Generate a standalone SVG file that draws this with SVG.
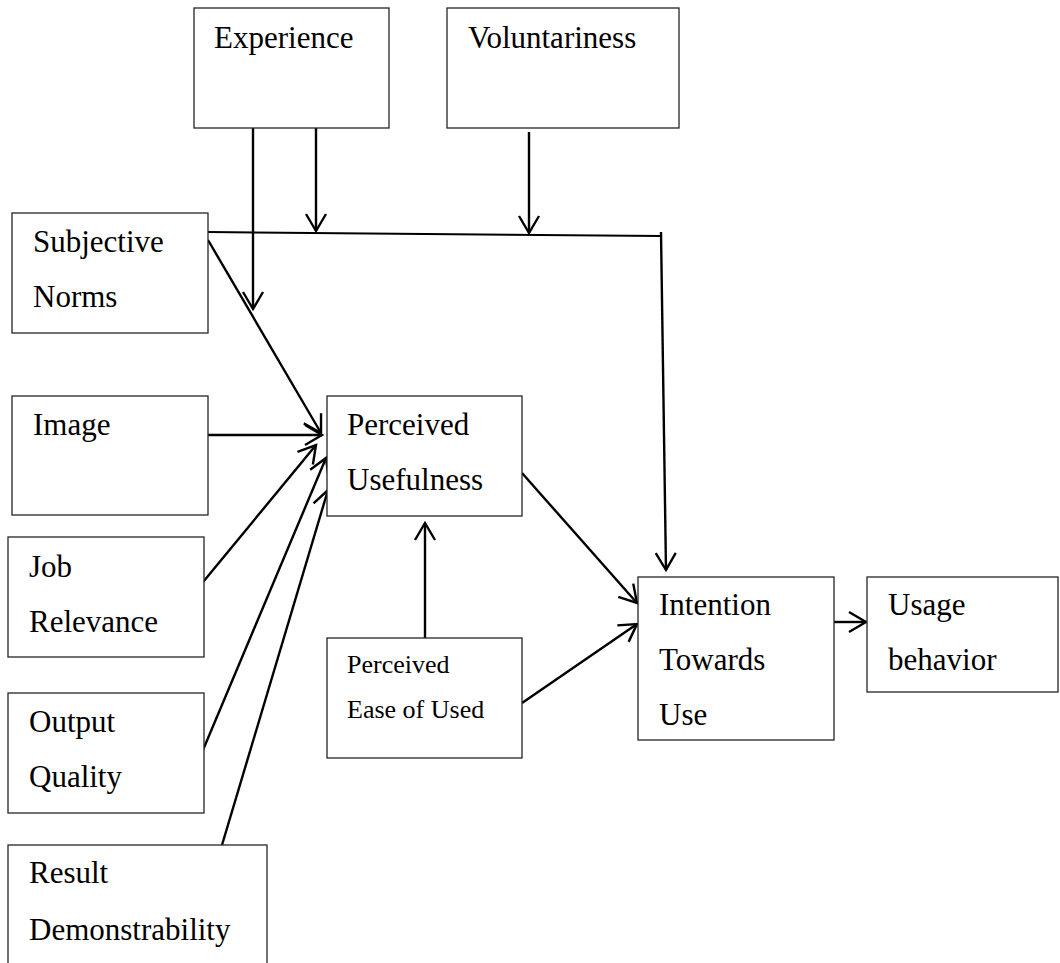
<svg xmlns="http://www.w3.org/2000/svg" width="1060" height="963" viewBox="0 0 1060 963">
  <defs>
    <style>
      .box { fill: #fff; stroke: #262626; stroke-width: 1.3; }
      .lbl { font-family: "Liberation Serif", "Times New Roman", serif; font-size: 31px; fill: #000; }
      .sm { font-size: 26px; }
      .edge { fill: none; stroke: #000; stroke-width: 2.4; }
      .thin { stroke-width: 2; }
    </style>
    <marker id="open" markerUnits="userSpaceOnUse" markerWidth="24" markerHeight="24" viewBox="-20 -12 24 24" refX="0" refY="0" orient="auto">
      <path d="M-17,-10 L0,0 L-17,10" fill="none" stroke="#000" stroke-width="2.4"/>
    </marker>
  </defs>

  <rect width="1060" height="963" fill="#fff"/>

  <!-- connectors -->
  <g id="connectors">
    <!-- experience moderators -->
    <line class="edge" x1="253" y1="128" x2="253" y2="309" marker-end="url(#open)"/>
    <line class="edge" x1="316" y1="128" x2="316" y2="231" marker-end="url(#open)"/>
    <!-- voluntariness moderator -->
    <line class="edge" x1="529" y1="132" x2="529" y2="233" marker-end="url(#open)"/>
    <!-- subjective norms to intention -->
    <polyline class="edge thin" points="208,232 661,236"/>
    <line class="edge" x1="661" y1="232" x2="666" y2="570" marker-end="url(#open)"/>
    <!-- determinants of perceived usefulness -->
    <line class="edge" x1="208" y1="240" x2="321" y2="433" marker-end="url(#open)"/>
    <line class="edge" x1="208" y1="435" x2="322" y2="435" marker-end="url(#open)"/>
    <line class="edge" x1="194" y1="593" x2="316" y2="445" marker-end="url(#open)"/>
    <line class="edge" x1="203" y1="750" x2="326" y2="458" marker-end="url(#open)"/>
    <line class="edge" x1="222" y1="845" x2="328" y2="490" marker-end="url(#open)"/>
    <!-- ease of use to usefulness -->
    <line class="edge" x1="425" y1="638" x2="425" y2="523" marker-end="url(#open)"/>
    <!-- into intention -->
    <line class="edge" x1="522" y1="473" x2="637" y2="603" marker-end="url(#open)"/>
    <line class="edge" x1="522" y1="703" x2="637" y2="624" marker-end="url(#open)"/>
    <!-- intention to usage -->
    <line class="edge" x1="834" y1="622" x2="866" y2="622" marker-end="url(#open)"/>
  </g>

  <g id="experience">
    <rect class="box" x="194" y="8" width="195" height="120"/>
    <text class="lbl" x="214" y="48">Experience</text>
  </g>

  <g id="voluntariness">
    <rect class="box" x="447" y="8" width="232" height="120"/>
    <text class="lbl" x="468" y="48">Voluntariness</text>
  </g>

  <g id="subjective-norms">
    <rect class="box" x="12" y="213" width="196" height="120"/>
    <text class="lbl" x="33" y="252">Subjective</text>
    <text class="lbl" x="33" y="307">Norms</text>
  </g>

  <g id="image">
    <rect class="box" x="12" y="396" width="196" height="119"/>
    <text class="lbl" x="33" y="435">Image</text>
  </g>

  <g id="job-relevance">
    <rect class="box" x="8" y="537" width="196" height="120"/>
    <text class="lbl" x="29" y="577">Job</text>
    <text class="lbl" x="29" y="632">Relevance</text>
  </g>

  <g id="output-quality">
    <rect class="box" x="8" y="693" width="196" height="120"/>
    <text class="lbl" x="29" y="732">Output</text>
    <text class="lbl" x="29" y="787">Quality</text>
  </g>

  <g id="result-demonstrability">
    <rect class="box" x="8" y="845" width="259" height="140"/>
    <text class="lbl" x="29" y="883">Result</text>
    <text class="lbl" x="29" y="940">Demonstrability</text>
  </g>

  <g id="perceived-usefulness">
    <rect class="box" x="327" y="396" width="195" height="120"/>
    <text class="lbl" x="347" y="435">Perceived</text>
    <text class="lbl" x="347" y="490">Usefulness</text>
  </g>

  <g id="perceived-ease">
    <rect class="box" x="327" y="638" width="195" height="120"/>
    <text class="lbl sm" x="347" y="673">Perceived</text>
    <text class="lbl sm" x="347" y="718">Ease of Used</text>
  </g>

  <g id="intention">
    <rect class="box" x="638" y="577" width="196" height="163"/>
    <text class="lbl" x="659" y="615">Intention</text>
    <text class="lbl" x="659" y="670">Towards</text>
    <text class="lbl" x="659" y="725">Use</text>
  </g>

  <g id="usage">
    <rect class="box" x="867" y="577" width="191" height="115"/>
    <text class="lbl" x="888" y="615">Usage</text>
    <text class="lbl" x="888" y="670">behavior</text>
  </g>
</svg>
